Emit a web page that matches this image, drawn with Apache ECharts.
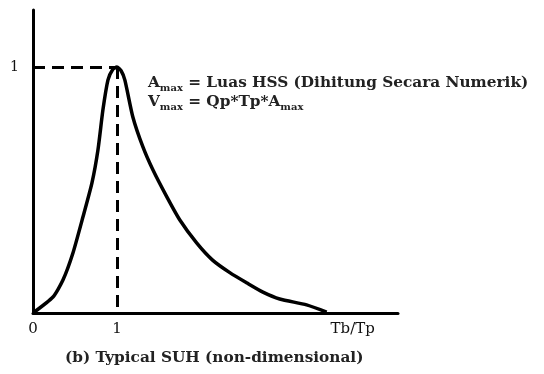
<!DOCTYPE html>
<html><head><meta charset="utf-8">
<script src="https://cdn.jsdelivr.net/npm/echarts@6/dist/echarts.min.js"></script>
<style>html,body{margin:0;padding:0;background:#fff}#c{width:544px;height:374px}</style>
</head><body><div id="c"></div>
<script>
// t/Tp (non-dimensional time)
const xValues = [0, 0.238, 0.357, 0.476, 0.595, 0.702, 0.774, 0.833, 0.893, 0.95, 1.0, 1.05, 1.095, 1.19, 1.31, 1.43, 1.595, 1.75, 1.95, 2.14, 2.35, 2.55, 2.74, 2.94, 3.26, 3.5];
// Q/Qp (non-dimensional discharge)
const yValues = [0, 0.065, 0.134, 0.244, 0.39, 0.528, 0.663, 0.825, 0.947, 0.99, 1.0, 0.985, 0.947, 0.797, 0.675, 0.581, 0.472, 0.378, 0.285, 0.215, 0.163, 0.122, 0.085, 0.057, 0.033, 0.004];
const xTickValues = [0, 1, 3.81];
const xTickLabels = ['0', '1', 'Tb/Tp'];
const yTickValues = [1];
const yTickLabels = ['1'];
const peak = [1, 1];

const chart = echarts.init(document.getElementById('c'));
const serif = '"DejaVu Serif", "Liberation Serif", serif';
chart.setOption({
  animation: false,
  backgroundColor: '#fff',
  grid: { left: 33, right: 146, top: 10, bottom: 61 },
  xAxis: {
    type: 'value', min: 0, max: 4.35,
    axisLine: { show: true, lineStyle: { color: '#000', width: 3 } },
    axisTick: { show: false },
    splitLine: { show: false },
    axisLabel: {
      customValues: xTickValues,
      formatter: v => xTickLabels[xTickValues.indexOf(v)] ?? '',
      color: '#111', fontFamily: serif, fontSize: 15, margin: 9
    }
  },
  yAxis: {
    type: 'value', min: 0, max: 1.232,
    axisLine: { show: true, lineStyle: { color: '#000', width: 3 } },
    axisTick: { show: false },
    splitLine: { show: false },
    axisLabel: {
      customValues: yTickValues,
      formatter: v => yTickLabels[yTickValues.indexOf(v)] ?? '',
      color: '#111', fontFamily: serif, fontSize: 14, margin: 14, padding: [0, 0, 14, 0]
    }
  },
  series: [{
    type: 'line',
    data: xValues.map((x, i) => [x, yValues[i]]),
    smooth: 0.2,
    symbol: 'none',
    lineStyle: { color: '#000', width: 3.5, join: 'round' },
    markLine: {
      silent: true, symbol: 'none', label: { show: false },
      lineStyle: { color: '#000', width: 3, type: [12, 7] },
      data: [
        [{ coord: [0, peak[1]] }, { coord: peak }],
        [{ coord: peak }, { coord: [peak[0], 0] }]
      ]
    }
  }],
  graphic: [
    {
      type: 'text', left: 148, top: 76,
      style: {
        text: '{b|A}{s|max}{b| = Luas HSS (Dihitung Secara Numerik)}\n{b|V}{s|max}{b| = Qp*Tp*A}{s|max}',
        rich: {
          b: { fontFamily: serif, fontSize: 15.3, fontWeight: 'bold', fill: '#222', lineHeight: 19 },
          s: { fontFamily: serif, fontSize: 10, fontWeight: 'bold', fill: '#222', verticalAlign: 'bottom', padding: [6, 0, 0, 0] }
        }
      }
    },
    {
      type: 'text', left: 65, top: 351,
      style: { text: '(b) Typical SUH (non-dimensional)', fontFamily: serif, fontSize: 15.3, fontWeight: 'bold', fill: '#222' }
    }
  ]
});
</script></body></html>
